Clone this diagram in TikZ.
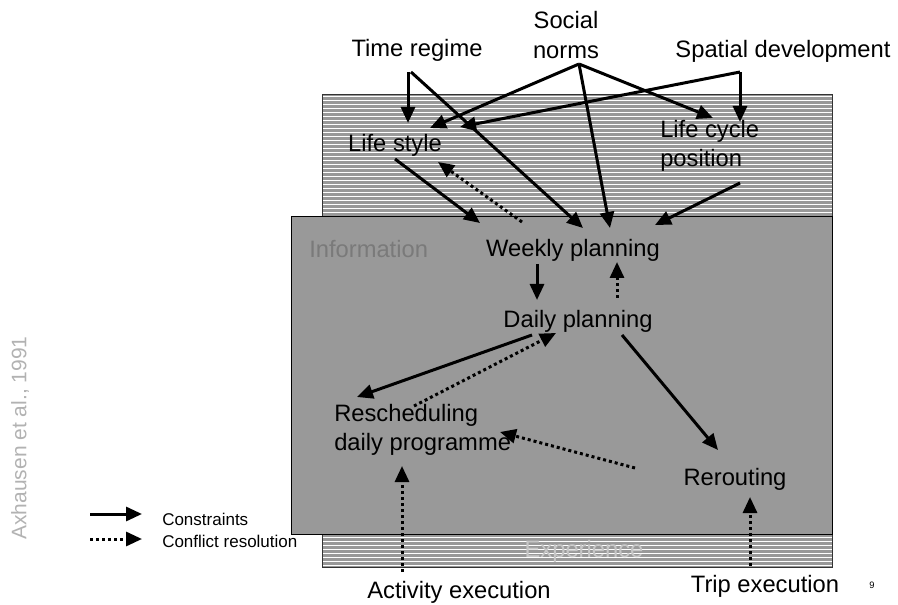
\documentclass[tikz,border=0pt]{standalone}
\usepackage{fontspec}
\setmainfont{Liberation Sans}
\usetikzlibrary{arrows.meta}
\tikzset{
  lbl/.style={inner sep=0pt, font=\fontsize{17.8}{22}\selectfont},
  legtext/.style={inner sep=0pt, anchor=base west, font=\fontsize{12.75}{15}\selectfont},
  constr/.style={line width=2.25pt, -{Triangle[length=12pt,width=10.5pt]}},
  confl/.style={constr, dash pattern=on 2.25pt off 2.25pt},
}
\begin{document}
\begin{tikzpicture}[x=0.75pt,y=-0.75pt]
\useasboundingbox (0,0) rectangle (898,605);
\fill[black!40] (322,95) rectangle (832,567);
\foreach \y in {97,101,...,565}
  \draw[white,line width=0.75pt] (322,\y) -- (832,\y);
\draw[black!80,line width=0.75pt] (322,95) rectangle (832,567);
\filldraw[fill=black!40,draw=black,line width=0.75pt] (291,217) rectangle (832,534);
\node[lbl,anchor=base] (timereg) at (417,57) {Time regime};
\node[lbl,align=center] (social) at (566,35) {Social\\norms};
\node[lbl,anchor=base] (spatial) at (783,58) {Spatial development};
\node[lbl,anchor=base] (lifestyle) at (395,152) {Life style};
\node[lbl,align=left,anchor=west] (lifecycle) at (660,146) {Life cycle\\position};
\node[lbl,anchor=base west,text=black!52] (info) at (309,258) {Information};
\node[lbl,anchor=base] (weekly) at (573,257) {Weekly planning};
\node[lbl,anchor=base] (daily) at (578,328) {Daily planning};
\node[lbl,align=left,anchor=west] (resched) at (334,430) {Rescheduling\\daily programme};
\node[lbl,anchor=base] (rerouting) at (735,485) {Rerouting};
\node[lbl,anchor=base,text=black!22] (exper) at (584,557) {Experience};
\node[lbl,anchor=base] (activity) at (459,598) {Activity execution};
\node[lbl,anchor=base] (trip) at (765,592) {Trip execution};
\node[rotate=90,text=black!30,font=\fontsize{15.75}{18}\selectfont] (cite) at (20,438) {Axhausen et al., 1991};
\node[font=\fontsize{7}{8}\selectfont] (pagenum) at (872,585) {9};
\draw[constr] ([shift={(-9,15)}]timereg.base) -- ([shift={(13,-29)}]lifestyle.base);
\draw[constr] ([shift={(-6,15)}]timereg.base) -- ([shift={(10,-29)}]weekly.base);
\draw[constr] ([shift={(13,29)}]social.center) -- ([shift={(35,-24)}]lifestyle.base);
\draw[constr] ([shift={(13,29)}]social.center) -- ([shift={(53,-28)}]lifecycle.west);
\draw[constr] ([shift={(13,29)}]social.center) -- ([shift={(37,-29)}]weekly.base);
\draw[constr] ([shift={(-43,14)}]spatial.base) -- ([shift={(80,-24)}]lifecycle.west);
\draw[constr] ([shift={(-43,14)}]spatial.base) -- ([shift={(65,-25)}]lifestyle.base);
\draw[constr] ([shift={(0,7)}]lifestyle.base) -- ([shift={(-93,-34)}]weekly.base);
\draw[confl] ([shift={(-51,-35)}]weekly.base) -- ([shift={(43,10)}]lifestyle.base);
\draw[constr] ([shift={(80,37)}]lifecycle.west) -- ([shift={(82,-32)}]weekly.base);
\draw[constr] ([shift={(-36,7)}]weekly.base) -- ([shift={(-41,-28)}]daily.base);
\draw[confl] ([shift={(39,-30)}]daily.base) -- ([shift={(44,5)}]weekly.base);
\draw[constr] ([shift={(-46,7)}]daily.base) -- ([shift={(23,-33)}]resched.west);
\draw[confl] ([shift={(80,-24)}]resched.west) -- ([shift={(-22,5)}]daily.base);
\draw[constr] ([shift={(44,7)}]daily.base) -- ([shift={(-17,-35)}]rerouting.base);
\draw[confl] ([shift={(-100,-17)}]rerouting.base) -- ([shift={(166,2)}]resched.west);
\draw[confl] ([shift={(-57,-26)}]activity.base) -- ([shift={(68,36)}]resched.west);
\draw[confl] ([shift={(-15,-26)}]trip.base) -- ([shift={(15,12)}]rerouting.base);
\node[legtext] (legcon) at (162,525) {Constraints};
\node[legtext] (legres) at (162,547) {Conflict resolution};
\coordinate (legconstart) at (90,514);
\coordinate (legresstart) at (90,539);
\draw[constr] (legconstart) -- ([shift={(-20,-11)}]legcon.base west);
\draw[confl] (legresstart) -- ([shift={(-20,-8)}]legres.base west);
\end{tikzpicture}
\end{document}
